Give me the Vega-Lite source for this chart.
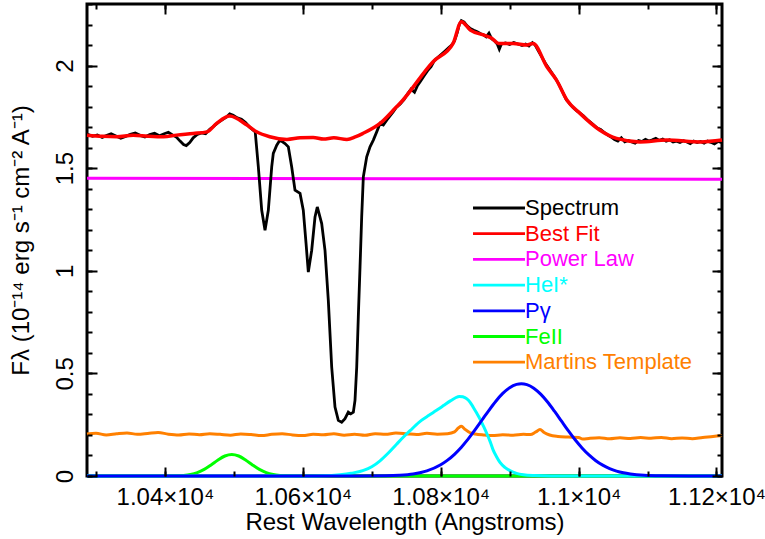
{
  "$schema": "https://vega.github.io/schema/vega-lite/v6.json",
  "width": 635,
  "height": 472,
  "autosize": {"type": "none"},
  "padding": {"left": 87, "top": 4, "right": 43, "bottom": 63},
  "background": "white",
  "config": {"view": {"stroke": "black", "strokeWidth": 3}, "font": "Liberation Sans"},
  "datasets": {
    "pl": [
      {"x": 10287, "y": 1.451}, {"x": 10750, "y": 1.449}, {"x": 11208, "y": 1.446}
    ],
    "mt": [
      {"x": 10287, "y": 0.205}, {"x": 10300, "y": 0.208}, {"x": 10315, "y": 0.2}, {"x": 10330, "y": 0.206}, {"x": 10345, "y": 0.21}, {"x": 10360, "y": 0.203}, {"x": 10375, "y": 0.207}, {"x": 10390, "y": 0.212}, {"x": 10405, "y": 0.204}, {"x": 10420, "y": 0.2}, {"x": 10435, "y": 0.205}, {"x": 10450, "y": 0.201}, {"x": 10465, "y": 0.206}, {"x": 10480, "y": 0.203}, {"x": 10495, "y": 0.199}, {"x": 10510, "y": 0.205}, {"x": 10525, "y": 0.202}, {"x": 10540, "y": 0.197}, {"x": 10555, "y": 0.203}, {"x": 10570, "y": 0.206}, {"x": 10585, "y": 0.2}, {"x": 10600, "y": 0.197}, {"x": 10615, "y": 0.203}, {"x": 10630, "y": 0.201}, {"x": 10645, "y": 0.206}, {"x": 10660, "y": 0.199}, {"x": 10675, "y": 0.203}, {"x": 10690, "y": 0.198}, {"x": 10705, "y": 0.206}, {"x": 10720, "y": 0.203}, {"x": 10735, "y": 0.209}, {"x": 10750, "y": 0.206}, {"x": 10765, "y": 0.202}, {"x": 10780, "y": 0.208}, {"x": 10795, "y": 0.204}, {"x": 10810, "y": 0.206}, {"x": 10820, "y": 0.215}, {"x": 10826, "y": 0.235}, {"x": 10830, "y": 0.242}, {"x": 10835, "y": 0.228}, {"x": 10842, "y": 0.212}, {"x": 10850, "y": 0.205}, {"x": 10862, "y": 0.2}, {"x": 10875, "y": 0.197}, {"x": 10890, "y": 0.201}, {"x": 10905, "y": 0.199}, {"x": 10920, "y": 0.203}, {"x": 10930, "y": 0.202}, {"x": 10938, "y": 0.215}, {"x": 10944, "y": 0.226}, {"x": 10950, "y": 0.212}, {"x": 10958, "y": 0.2}, {"x": 10970, "y": 0.193}, {"x": 10985, "y": 0.19}, {"x": 11000, "y": 0.188}, {"x": 11006, "y": 0.18}, {"x": 11015, "y": 0.183}, {"x": 11030, "y": 0.186}, {"x": 11045, "y": 0.181}, {"x": 11060, "y": 0.186}, {"x": 11075, "y": 0.183}, {"x": 11090, "y": 0.187}, {"x": 11105, "y": 0.184}, {"x": 11120, "y": 0.188}, {"x": 11135, "y": 0.182}, {"x": 11150, "y": 0.185}, {"x": 11165, "y": 0.182}, {"x": 11180, "y": 0.188}, {"x": 11195, "y": 0.192}, {"x": 11208, "y": 0.197}
    ],
    "fe": [
      {"x": 10287, "y": 0}, {"x": 10400, "y": 0}, {"x": 10417, "y": 0.0009}, {"x": 10427, "y": 0.0028}, {"x": 10437, "y": 0.0073}, {"x": 10447, "y": 0.0165}, {"x": 10457, "y": 0.0322}, {"x": 10467, "y": 0.054}, {"x": 10477, "y": 0.0781}, {"x": 10487, "y": 0.0975}, {"x": 10497, "y": 0.105}, {"x": 10507, "y": 0.0975}, {"x": 10517, "y": 0.0781}, {"x": 10527, "y": 0.054}, {"x": 10537, "y": 0.0322}, {"x": 10547, "y": 0.0165}, {"x": 10557, "y": 0.0073}, {"x": 10567, "y": 0.0028}, {"x": 10577, "y": 0.0009}, {"x": 10600, "y": 0}, {"x": 11208, "y": 0}
    ],
    "he": [
      {"x": 10287, "y": 0}, {"x": 10600, "y": 0}, {"x": 10630, "y": 0.001}, {"x": 10654, "y": 0.006}, {"x": 10670, "y": 0.013}, {"x": 10688, "y": 0.027}, {"x": 10700, "y": 0.045}, {"x": 10712, "y": 0.074}, {"x": 10724, "y": 0.112}, {"x": 10736, "y": 0.155}, {"x": 10746, "y": 0.19}, {"x": 10756, "y": 0.222}, {"x": 10764, "y": 0.248}, {"x": 10772, "y": 0.271}, {"x": 10783, "y": 0.296}, {"x": 10794, "y": 0.32}, {"x": 10804, "y": 0.343}, {"x": 10814, "y": 0.366}, {"x": 10821, "y": 0.38}, {"x": 10827, "y": 0.388}, {"x": 10832, "y": 0.386}, {"x": 10838, "y": 0.376}, {"x": 10843, "y": 0.358}, {"x": 10847, "y": 0.336}, {"x": 10852, "y": 0.308}, {"x": 10857, "y": 0.278}, {"x": 10862, "y": 0.243}, {"x": 10867, "y": 0.206}, {"x": 10872, "y": 0.165}, {"x": 10876, "y": 0.127}, {"x": 10881, "y": 0.094}, {"x": 10886, "y": 0.066}, {"x": 10893, "y": 0.042}, {"x": 10901, "y": 0.025}, {"x": 10910, "y": 0.013}, {"x": 10920, "y": 0.006}, {"x": 10935, "y": 0.002}, {"x": 10960, "y": 0}, {"x": 11208, "y": 0}
    ],
    "pg": [
      {"x": 10287, "y": 0}, {"x": 10680, "y": 0}, {"x": 10720, "y": 0.0011}, {"x": 10740, "y": 0.0036}, {"x": 10760, "y": 0.0101}, {"x": 10780, "y": 0.0251}, {"x": 10800, "y": 0.0547}, {"x": 10810, "y": 0.0773}, {"x": 10820, "y": 0.1058}, {"x": 10830, "y": 0.1404}, {"x": 10840, "y": 0.1807}, {"x": 10850, "y": 0.2255}, {"x": 10860, "y": 0.2729}, {"x": 10870, "y": 0.3203}, {"x": 10880, "y": 0.3645}, {"x": 10890, "y": 0.4023}, {"x": 10900, "y": 0.4304}, {"x": 10910, "y": 0.4466}, {"x": 10917, "y": 0.45}, {"x": 10925, "y": 0.4456}, {"x": 10935, "y": 0.4281}, {"x": 10945, "y": 0.3988}, {"x": 10955, "y": 0.3603}, {"x": 10965, "y": 0.3156}, {"x": 10975, "y": 0.2682}, {"x": 10985, "y": 0.2209}, {"x": 10995, "y": 0.1764}, {"x": 11005, "y": 0.1367}, {"x": 11015, "y": 0.1026}, {"x": 11025, "y": 0.0747}, {"x": 11035, "y": 0.0528}, {"x": 11045, "y": 0.0362}, {"x": 11055, "y": 0.024}, {"x": 11065, "y": 0.0155}, {"x": 11075, "y": 0.0097}, {"x": 11095, "y": 0.0034}, {"x": 11120, "y": 0.001}, {"x": 11160, "y": 0}, {"x": 11208, "y": 0}
    ],
    "sp": [
      {"x": 10288, "y": 1.665}, {"x": 10295, "y": 1.655}, {"x": 10302, "y": 1.662}, {"x": 10309, "y": 1.65}, {"x": 10316, "y": 1.66}, {"x": 10322, "y": 1.668}, {"x": 10329, "y": 1.657}, {"x": 10336, "y": 1.646}, {"x": 10343, "y": 1.655}, {"x": 10350, "y": 1.665}, {"x": 10357, "y": 1.672}, {"x": 10364, "y": 1.66}, {"x": 10371, "y": 1.652}, {"x": 10378, "y": 1.664}, {"x": 10385, "y": 1.67}, {"x": 10392, "y": 1.658}, {"x": 10399, "y": 1.668}, {"x": 10405, "y": 1.675}, {"x": 10411, "y": 1.662}, {"x": 10417, "y": 1.65}, {"x": 10422, "y": 1.632}, {"x": 10427, "y": 1.615}, {"x": 10431, "y": 1.61}, {"x": 10436, "y": 1.625}, {"x": 10441, "y": 1.648}, {"x": 10447, "y": 1.664}, {"x": 10453, "y": 1.672}, {"x": 10459, "y": 1.668}, {"x": 10465, "y": 1.69}, {"x": 10471, "y": 1.705}, {"x": 10477, "y": 1.722}, {"x": 10483, "y": 1.735}, {"x": 10489, "y": 1.748}, {"x": 10494, "y": 1.765}, {"x": 10499, "y": 1.758}, {"x": 10505, "y": 1.745}, {"x": 10511, "y": 1.738}, {"x": 10517, "y": 1.722}, {"x": 10523, "y": 1.7}, {"x": 10528, "y": 1.685},
      {"x": 10531, "y": 1.677}, {"x": 10535.5, "y": 1.506}, {"x": 10540.4, "y": 1.295}, {"x": 10545.2, "y": 1.198}, {"x": 10550, "y": 1.295}, {"x": 10554.9, "y": 1.506}, {"x": 10557.2, "y": 1.572}, {"x": 10562.2, "y": 1.612}, {"x": 10566.9, "y": 1.637}, {"x": 10574.2, "y": 1.62}, {"x": 10579, "y": 1.604}, {"x": 10583.9, "y": 1.506}, {"x": 10588.7, "y": 1.393}, {"x": 10596, "y": 1.377}, {"x": 10600.7, "y": 1.295}, {"x": 10604.7, "y": 1.133}, {"x": 10608, "y": 0.994}, {"x": 10612.9, "y": 1.1}, {"x": 10617.7, "y": 1.262}, {"x": 10621, "y": 1.311}, {"x": 10627.4, "y": 1.23}, {"x": 10632.2, "y": 1.1}, {"x": 10637, "y": 0.856}, {"x": 10641.9, "y": 0.531}, {"x": 10646.7, "y": 0.336}, {"x": 10651.5, "y": 0.271}, {"x": 10656.4, "y": 0.262}, {"x": 10661.2, "y": 0.279}, {"x": 10666, "y": 0.311}, {"x": 10669.5, "y": 0.303}, {"x": 10673.3, "y": 0.311}, {"x": 10675.7, "y": 0.368}, {"x": 10678.2, "y": 0.531}, {"x": 10680.5, "y": 0.775}, {"x": 10683, "y": 1.019}, {"x": 10685.4, "y": 1.262}, {"x": 10687.8, "y": 1.458}, {"x": 10692.7, "y": 1.555}, {"x": 10697.5, "y": 1.604}, {"x": 10702.3, "y": 1.637}, {"x": 10707.2, "y": 1.677}, {"x": 10712, "y": 1.718}, {"x": 10716.8, "y": 1.71}, {"x": 10721.7, "y": 1.734}, {"x": 10726, "y": 1.752}, {"x": 10731.3, "y": 1.775}, {"x": 10736.2, "y": 1.799},
      {"x": 10741, "y": 1.812}, {"x": 10747, "y": 1.835}, {"x": 10752, "y": 1.862}, {"x": 10757, "y": 1.885}, {"x": 10762, "y": 1.87}, {"x": 10766, "y": 1.9}, {"x": 10771, "y": 1.925}, {"x": 10776, "y": 1.95}, {"x": 10781, "y": 1.975}, {"x": 10786, "y": 1.995}, {"x": 10791, "y": 2.025}, {"x": 10796, "y": 2.04}, {"x": 10801, "y": 2.055}, {"x": 10806, "y": 2.07}, {"x": 10811, "y": 2.085}, {"x": 10816, "y": 2.1}, {"x": 10820, "y": 2.12}, {"x": 10824, "y": 2.16}, {"x": 10827, "y": 2.2}, {"x": 10830, "y": 2.219}, {"x": 10834, "y": 2.212}, {"x": 10838, "y": 2.195}, {"x": 10843, "y": 2.18}, {"x": 10848, "y": 2.172}, {"x": 10853, "y": 2.165}, {"x": 10858, "y": 2.155}, {"x": 10862, "y": 2.15}, {"x": 10866, "y": 2.14}, {"x": 10870, "y": 2.158}, {"x": 10874, "y": 2.13}, {"x": 10878, "y": 2.12}, {"x": 10882, "y": 2.105}, {"x": 10885, "y": 2.08}, {"x": 10888, "y": 2.105}, {"x": 10894, "y": 2.11}, {"x": 10900, "y": 2.103}, {"x": 10906, "y": 2.112}, {"x": 10912, "y": 2.105}, {"x": 10918, "y": 2.098}, {"x": 10923, "y": 2.105}, {"x": 10928, "y": 2.095}, {"x": 10933, "y": 2.112}, {"x": 10937, "y": 2.1}, {"x": 10942, "y": 2.07}, {"x": 10947, "y": 2.04}, {"x": 10952, "y": 2.01}, {"x": 10957, "y": 1.985}, {"x": 10962, "y": 1.96}, {"x": 10967, "y": 1.935}, {"x": 10972, "y": 1.905}, {"x": 10977, "y": 1.87}, {"x": 10982, "y": 1.835}, {"x": 10987, "y": 1.815}, {"x": 10992, "y": 1.795}, {"x": 10997, "y": 1.78}, {"x": 11002, "y": 1.768}, {"x": 11007, "y": 1.755}, {"x": 11012, "y": 1.738}, {"x": 11017, "y": 1.725}, {"x": 11022, "y": 1.71}, {"x": 11027, "y": 1.695}, {"x": 11032, "y": 1.688}, {"x": 11037, "y": 1.675}, {"x": 11042, "y": 1.662}, {"x": 11047, "y": 1.652}, {"x": 11052, "y": 1.64}, {"x": 11057, "y": 1.632}, {"x": 11062, "y": 1.648}, {"x": 11067, "y": 1.628}, {"x": 11072, "y": 1.635}, {"x": 11077, "y": 1.628}, {"x": 11082, "y": 1.622}, {"x": 11087, "y": 1.635}, {"x": 11092, "y": 1.63}, {"x": 11097, "y": 1.64}, {"x": 11102, "y": 1.632}, {"x": 11107, "y": 1.638}, {"x": 11112, "y": 1.645}, {"x": 11117, "y": 1.635}, {"x": 11122, "y": 1.642}, {"x": 11127, "y": 1.632}, {"x": 11132, "y": 1.638}, {"x": 11137, "y": 1.628}, {"x": 11142, "y": 1.632}, {"x": 11147, "y": 1.625}, {"x": 11152, "y": 1.634}, {"x": 11157, "y": 1.628}, {"x": 11162, "y": 1.62}, {"x": 11167, "y": 1.632}, {"x": 11172, "y": 1.625}, {"x": 11177, "y": 1.63}, {"x": 11182, "y": 1.622}, {"x": 11187, "y": 1.632}, {"x": 11192, "y": 1.626}, {"x": 11197, "y": 1.618}, {"x": 11202, "y": 1.63}, {"x": 11208, "y": 1.625}
    ],
    "bf": [
      {"x": 10287, "y": 1.661}, {"x": 10310, "y": 1.655}, {"x": 10330, "y": 1.653}, {"x": 10354, "y": 1.661}, {"x": 10375, "y": 1.656}, {"x": 10398, "y": 1.653}, {"x": 10417, "y": 1.661}, {"x": 10441, "y": 1.669}, {"x": 10461, "y": 1.677}, {"x": 10475, "y": 1.718}, {"x": 10494, "y": 1.754}, {"x": 10519, "y": 1.71}, {"x": 10533, "y": 1.677}, {"x": 10552, "y": 1.653}, {"x": 10577, "y": 1.64}, {"x": 10596, "y": 1.648}, {"x": 10615, "y": 1.65}, {"x": 10630, "y": 1.642}, {"x": 10645, "y": 1.648}, {"x": 10664, "y": 1.64}, {"x": 10676, "y": 1.652}, {"x": 10687, "y": 1.669}, {"x": 10712, "y": 1.718}, {"x": 10736, "y": 1.799}, {"x": 10741, "y": 1.816}, {"x": 10789, "y": 2.019}, {"x": 10818, "y": 2.108}, {"x": 10830, "y": 2.214}, {"x": 10843, "y": 2.173}, {"x": 10862, "y": 2.149}, {"x": 10874, "y": 2.133}, {"x": 10884, "y": 2.108}, {"x": 10905, "y": 2.108}, {"x": 10925, "y": 2.1}, {"x": 10934, "y": 2.108}, {"x": 10954, "y": 1.994}, {"x": 10968, "y": 1.929}, {"x": 10983, "y": 1.832}, {"x": 11002, "y": 1.767}, {"x": 11031, "y": 1.685}, {"x": 11055, "y": 1.645}, {"x": 11089, "y": 1.628}, {"x": 11128, "y": 1.637}, {"x": 11177, "y": 1.628}, {"x": 11208, "y": 1.637}
    ]
  },
  "layer": [
    {
      "data": {"name": "pl"},
      "mark": {"type": "line", "strokeWidth": 3, "interpolate": "monotone"},
      "encoding": {
        "x": {"field": "x", "type": "quantitative",
          "scale": {"domain": [10287, 11208], "nice": false, "zero": false},
          "axis": {"orient": "bottom", "tickCount": 5, "zindex": 1, "offset": -9,
            "labelExpr": "format(datum.value/10000, '.3~g') + '×10⁴'",
            "ticks": true, "tickSize": 9, "tickWidth": 2, "tickColor": "black",
            "domain": false, "grid": false,
            "labelFontSize": 24, "labelColor": "black", "labelBaseline": "alphabetic", "labelPadding": 28,
            "labelFlush": false, "labelOverlap": false, "labelBound": false,
            "title": "Rest Wavelength (Angstroms)", "titleFontSize": 24, "titleFontWeight": "normal", "titleColor": "black",
            "titleBaseline": "alphabetic", "titleY": 62}},
        "y": {"field": "y", "type": "quantitative",
          "scale": {"domain": [0, 2.3], "nice": false, "zero": false},
          "axis": {"orient": "left", "tickCount": 5, "zindex": 1, "offset": -10,
            "labelExpr": "format(datum.value, '.1~f')",
            "ticks": true, "tickSize": 10, "tickWidth": 2, "tickColor": "black",
            "domain": false, "grid": false,
            "labelFontSize": 24, "labelColor": "black", "labelAngle": 270, "labelAlign": "center", "labelBaseline": "alphabetic", "labelPadding": 15,
            "labelFlush": false, "labelOverlap": false, "labelBound": false,
            "title": "Fλ (10⁻¹⁴ erg s⁻¹ cm⁻² A⁻¹)", "titleFontSize": 24, "titleFontWeight": "normal", "titleColor": "black",
            "titleAngle": 270, "titleBaseline": "alphabetic", "titleX": -69}},
        "color": {"datum": "Power Law", "type": "nominal",
          "scale": {"domain": ["Spectrum", "Best Fit", "Power Law", "HeI*", "Pγ", "FeII", "Martins Template"],
                    "range": ["#000000", "#ff0000", "#ff00ff", "#00ffff", "#0000ff", "#00ff00", "#ff8000"]},
          "legend": {"orient": "none", "legendX": 386, "legendY": 193, "title": null,
            "symbolType": "M-5,0H5", "symbolSize": 108, "symbolStrokeWidth": 2.8, "symbolOffset": 15,
            "labelOffset": 15, "labelFontSize": 22, "labelLimit": 400, "rowPadding": 3.7, "padding": 0,
            "encode": {"labels": {"update": {"fill": {"scale": "color", "field": "value"}}}}}}
      }
    },
    {
      "data": {"name": "mt"},
      "mark": {"type": "line", "strokeWidth": 3, "interpolate": "monotone"},
      "encoding": {
        "x": {"field": "x", "type": "quantitative",
          "axis": {"orient": "top", "tickCount": 5, "labels": false, "zindex": 1, "offset": -10,
            "ticks": true, "tickSize": 10, "tickWidth": 2, "tickColor": "black", "domain": false, "grid": false, "title": null}},
        "y": {"field": "y", "type": "quantitative",
          "axis": {"orient": "right", "tickCount": 5, "labels": false, "zindex": 1, "offset": -10,
            "ticks": true, "tickSize": 10, "tickWidth": 2, "tickColor": "black", "domain": false, "grid": false, "title": null}},
        "color": {"datum": "Martins Template", "type": "nominal"}
      }
    },
    {
      "data": {"name": "fe"},
      "mark": {"type": "line", "strokeWidth": 3, "interpolate": "monotone"},
      "encoding": {
        "x": {"field": "x", "type": "quantitative",
          "axis": {"orient": "bottom", "tickCount": 10, "labels": false, "zindex": 1, "offset": -5,
            "ticks": true, "tickSize": 5, "tickWidth": 2, "tickColor": "black", "domain": false, "grid": false, "title": null}},
        "y": {"field": "y", "type": "quantitative",
          "axis": {"orient": "left", "tickCount": 23, "labels": false, "zindex": 1, "offset": -5,
            "ticks": true, "tickSize": 5, "tickWidth": 2, "tickColor": "black", "domain": false, "grid": false, "title": null}},
        "color": {"datum": "FeII", "type": "nominal"}
      }
    },
    {
      "data": {"name": "he"},
      "mark": {"type": "line", "strokeWidth": 3, "interpolate": "monotone"},
      "encoding": {
        "x": {"field": "x", "type": "quantitative",
          "axis": {"orient": "top", "tickCount": 10, "labels": false, "zindex": 1, "offset": -5,
            "ticks": true, "tickSize": 5, "tickWidth": 2, "tickColor": "black", "domain": false, "grid": false, "title": null}},
        "y": {"field": "y", "type": "quantitative",
          "axis": {"orient": "right", "tickCount": 23, "labels": false, "zindex": 1, "offset": -5,
            "ticks": true, "tickSize": 5, "tickWidth": 2, "tickColor": "black", "domain": false, "grid": false, "title": null}},
        "color": {"datum": "HeI*", "type": "nominal"}
      }
    },
    {
      "data": {"name": "pg"},
      "mark": {"type": "line", "strokeWidth": 3, "interpolate": "monotone"},
      "encoding": {
        "x": {"field": "x", "type": "quantitative", "axis": null},
        "y": {"field": "y", "type": "quantitative", "axis": null},
        "color": {"datum": "Pγ", "type": "nominal"}
      }
    },
    {
      "data": {"name": "sp"},
      "mark": {"type": "line", "strokeWidth": 2.8},
      "encoding": {
        "x": {"field": "x", "type": "quantitative", "axis": null},
        "y": {"field": "y", "type": "quantitative", "axis": null},
        "color": {"datum": "Spectrum", "type": "nominal"}
      }
    },
    {
      "data": {"name": "bf"},
      "mark": {"type": "line", "strokeWidth": 3.5, "interpolate": "monotone"},
      "encoding": {
        "x": {"field": "x", "type": "quantitative", "axis": null},
        "y": {"field": "y", "type": "quantitative", "axis": null},
        "color": {"datum": "Best Fit", "type": "nominal"}
      }
    }
  ],
  "resolve": {"axis": {"x": "independent", "y": "independent"}}
}
